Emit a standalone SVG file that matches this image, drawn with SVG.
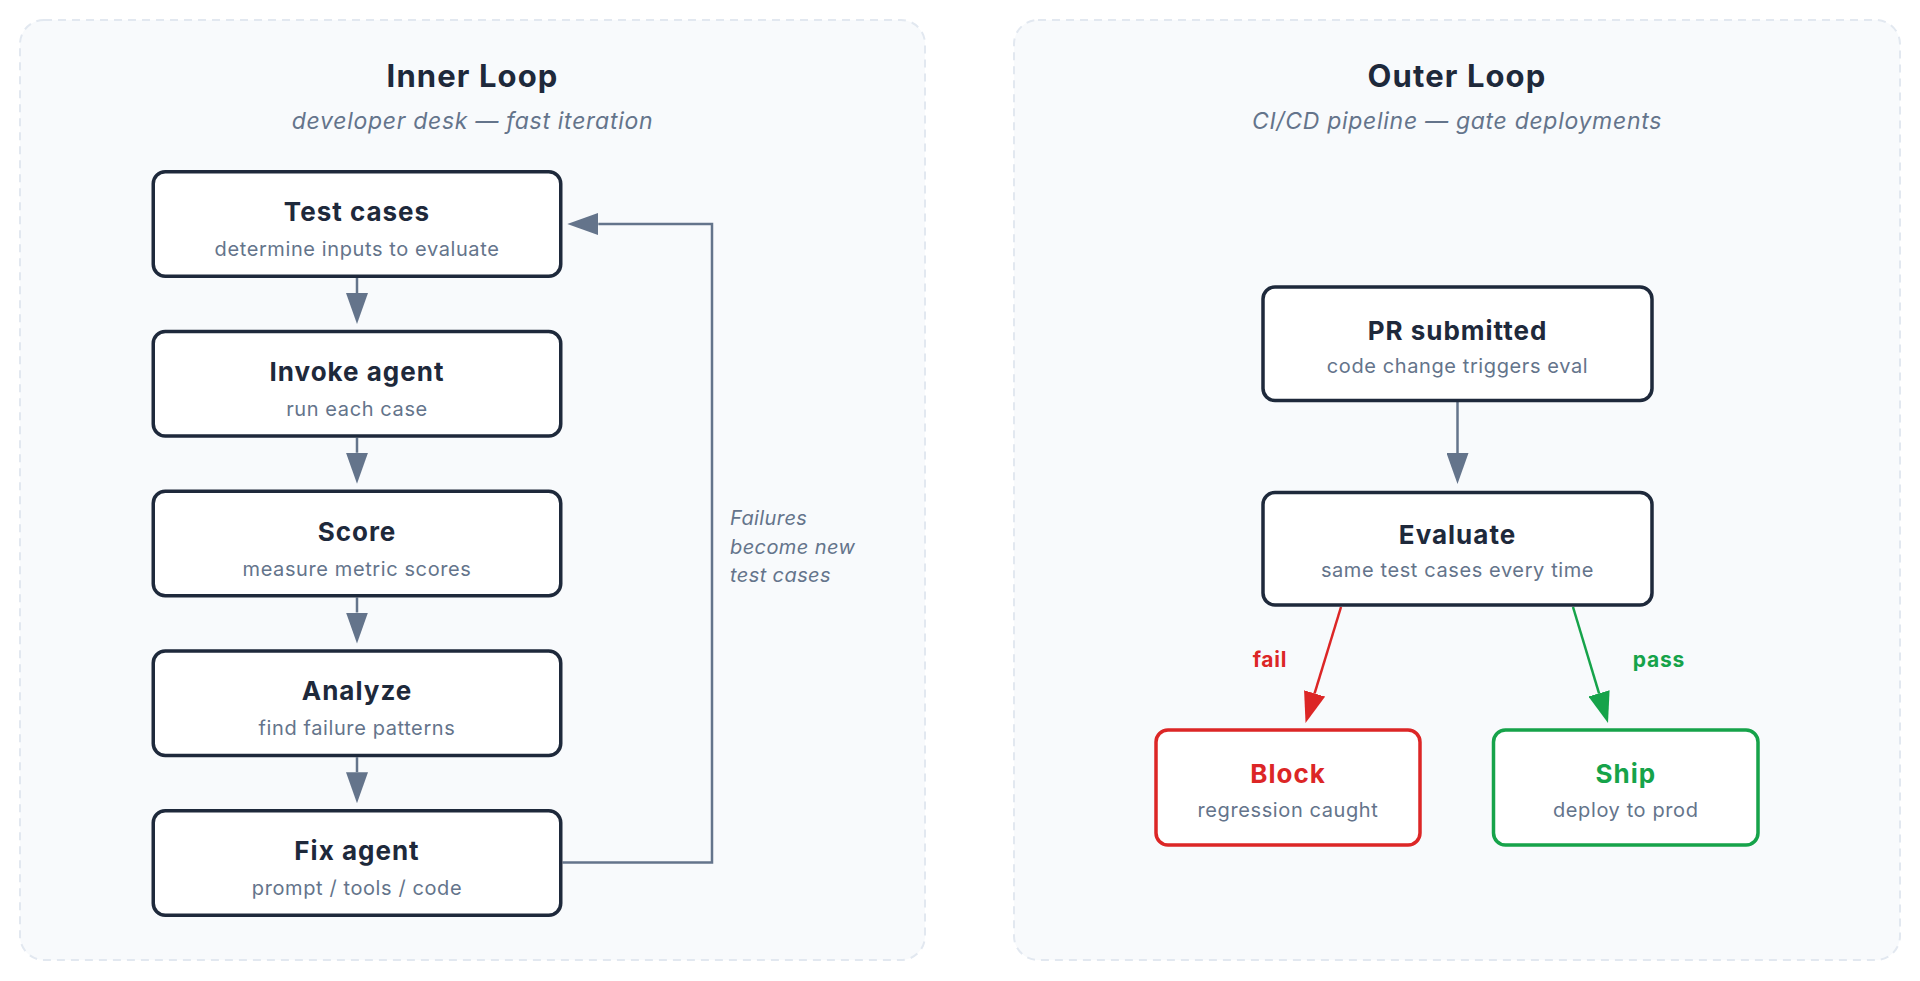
<svg xmlns="http://www.w3.org/2000/svg" width="1920" height="981" viewBox="0 0 1920 981">
  <defs>
    <marker id="arrGray" markerUnits="userSpaceOnUse" markerWidth="31" markerHeight="22" refX="0" refY="11" orient="auto">
      <path d="M0,0 L31,11 L0,22 z" fill="#64748b"/>
    </marker>
    <marker id="arrRed" markerUnits="userSpaceOnUse" markerWidth="31" markerHeight="22" refX="0" refY="11" orient="auto">
      <path d="M0,0 L31,11 L0,22 z" fill="#dc2626"/>
    </marker>
    <marker id="arrGreen" markerUnits="userSpaceOnUse" markerWidth="31" markerHeight="22" refX="0" refY="11" orient="auto">
      <path d="M0,0 L31,11 L0,22 z" fill="#16a34a"/>
    </marker>
  </defs>
  <style>
    text { font-family: Inter, "Noto Sans", "Liberation Sans", sans-serif; text-anchor: middle; }
    .panel { fill: #f8fafc; stroke: #e2e8f0; stroke-width: 2; stroke-dasharray: 8 6; }
    .ptitle { font-size: 31px; font-weight: 700; fill: #1e293b; letter-spacing: 1.1px; }
    .psub { font-size: 23px; font-style: italic; fill: #64748b; letter-spacing: 0.7px; }
    .box { fill: #ffffff; stroke: #1e293b; stroke-width: 3.5; }
    .box.red { stroke: #dc2626; }
    .box.green { stroke: #16a34a; }
    .ntitle { font-size: 26px; font-weight: 700; fill: #1e293b; letter-spacing: 1px; }
    .nsub { font-size: 20px; fill: #64748b; letter-spacing: 0.6px; }
    .conn { fill: none; stroke: #64748b; stroke-width: 2.5; }
    .conn.red { stroke: #dc2626; }
    .conn.green { stroke: #16a34a; }
    .elabel { font-size: 21px; font-weight: 700; letter-spacing: 0.8px; }
    .note { font-size: 20px; font-style: italic; fill: #64748b; text-anchor: start; letter-spacing: 0.4px; }
  </style>

  <g id="panel-inner">
    <rect class="panel" x="20" y="20" width="905" height="940" rx="24"/>
    <text class="ptitle" x="472.5" y="87">Inner Loop</text>
    <text class="psub" x="472.5" y="129">developer desk — fast iteration</text>
  </g>
  <g id="panel-outer">
    <rect class="panel" x="1014" y="20" width="886" height="940" rx="24"/>
    <text class="ptitle" x="1457" y="87">Outer Loop</text>
    <text class="psub" x="1457" y="129">CI/CD pipeline — gate deployments</text>
  </g>

  <g id="connectors">
    <path class="conn" d="M357 278 V293" marker-end="url(#arrGray)"/>
    <path class="conn" d="M357 437.75 V452.75" marker-end="url(#arrGray)"/>
    <path class="conn" d="M357 597.5 V612.5" marker-end="url(#arrGray)"/>
    <path class="conn" d="M357 757.25 V772.25" marker-end="url(#arrGray)"/>
    <path class="conn" d="M562.5 862.5 H712 V224 H598.3" marker-end="url(#arrGray)"/>
    <path class="conn" d="M1457.5 402 V453" marker-end="url(#arrGray)"/>
    <path class="conn red" d="M1341 607 L1314.6 693.4" marker-end="url(#arrRed)"/>
    <path class="conn green" d="M1573 607 L1599.05 693.33" marker-end="url(#arrGreen)"/>
    <text class="elabel" x="1270" y="667" fill="#dc2626">fail</text>
    <text class="elabel" x="1659" y="667" fill="#16a34a">pass</text>
    <text class="note" x="730" y="525">Failures</text>
    <text class="note" x="730" y="553.5">become new</text>
    <text class="note" x="730" y="582">test cases</text>
  </g>

  <g id="node-test-cases">
    <rect class="box" x="153.25" y="171.75" width="407.5" height="104.5" rx="12"/>
    <text class="ntitle" x="357" y="221">Test cases</text>
    <text class="nsub" x="357" y="256">determine inputs to evaluate</text>
  </g>
  <g id="node-invoke-agent">
    <rect class="box" x="153.25" y="331.5" width="407.5" height="104.5" rx="12"/>
    <text class="ntitle" x="357" y="380.75">Invoke agent</text>
    <text class="nsub" x="357" y="415.75">run each case</text>
  </g>
  <g id="node-score">
    <rect class="box" x="153.25" y="491.25" width="407.5" height="104.5" rx="12"/>
    <text class="ntitle" x="357" y="540.5">Score</text>
    <text class="nsub" x="357" y="575.5">measure metric scores</text>
  </g>
  <g id="node-analyze">
    <rect class="box" x="153.25" y="651" width="407.5" height="104.5" rx="12"/>
    <text class="ntitle" x="357" y="700.25">Analyze</text>
    <text class="nsub" x="357" y="735.25">find failure patterns</text>
  </g>
  <g id="node-fix-agent">
    <rect class="box" x="153.25" y="810.75" width="407.5" height="104.5" rx="12"/>
    <text class="ntitle" x="357" y="860">Fix agent</text>
    <text class="nsub" x="357" y="895">prompt / tools / code</text>
  </g>

  <g id="node-pr-submitted">
    <rect class="box" x="1263" y="287" width="389" height="113.5" rx="12"/>
    <text class="ntitle" x="1457.5" y="340">PR submitted</text>
    <text class="nsub" x="1457.5" y="373">code change triggers eval</text>
  </g>
  <g id="node-evaluate">
    <rect class="box" x="1263" y="492.5" width="389" height="112.5" rx="12"/>
    <text class="ntitle" x="1457.5" y="543.5">Evaluate</text>
    <text class="nsub" x="1457.5" y="577">same test cases every time</text>
  </g>
  <g id="node-block">
    <rect class="box red" x="1156" y="730" width="264" height="115" rx="12"/>
    <text class="ntitle" x="1288" y="782.5" style="fill:#dc2626">Block</text>
    <text class="nsub" x="1288" y="816.5">regression caught</text>
  </g>
  <g id="node-ship">
    <rect class="box green" x="1493.5" y="730" width="264.5" height="115" rx="12"/>
    <text class="ntitle" x="1625.75" y="782.5" style="fill:#16a34a">Ship</text>
    <text class="nsub" x="1625.75" y="816.5">deploy to prod</text>
  </g>
</svg>
